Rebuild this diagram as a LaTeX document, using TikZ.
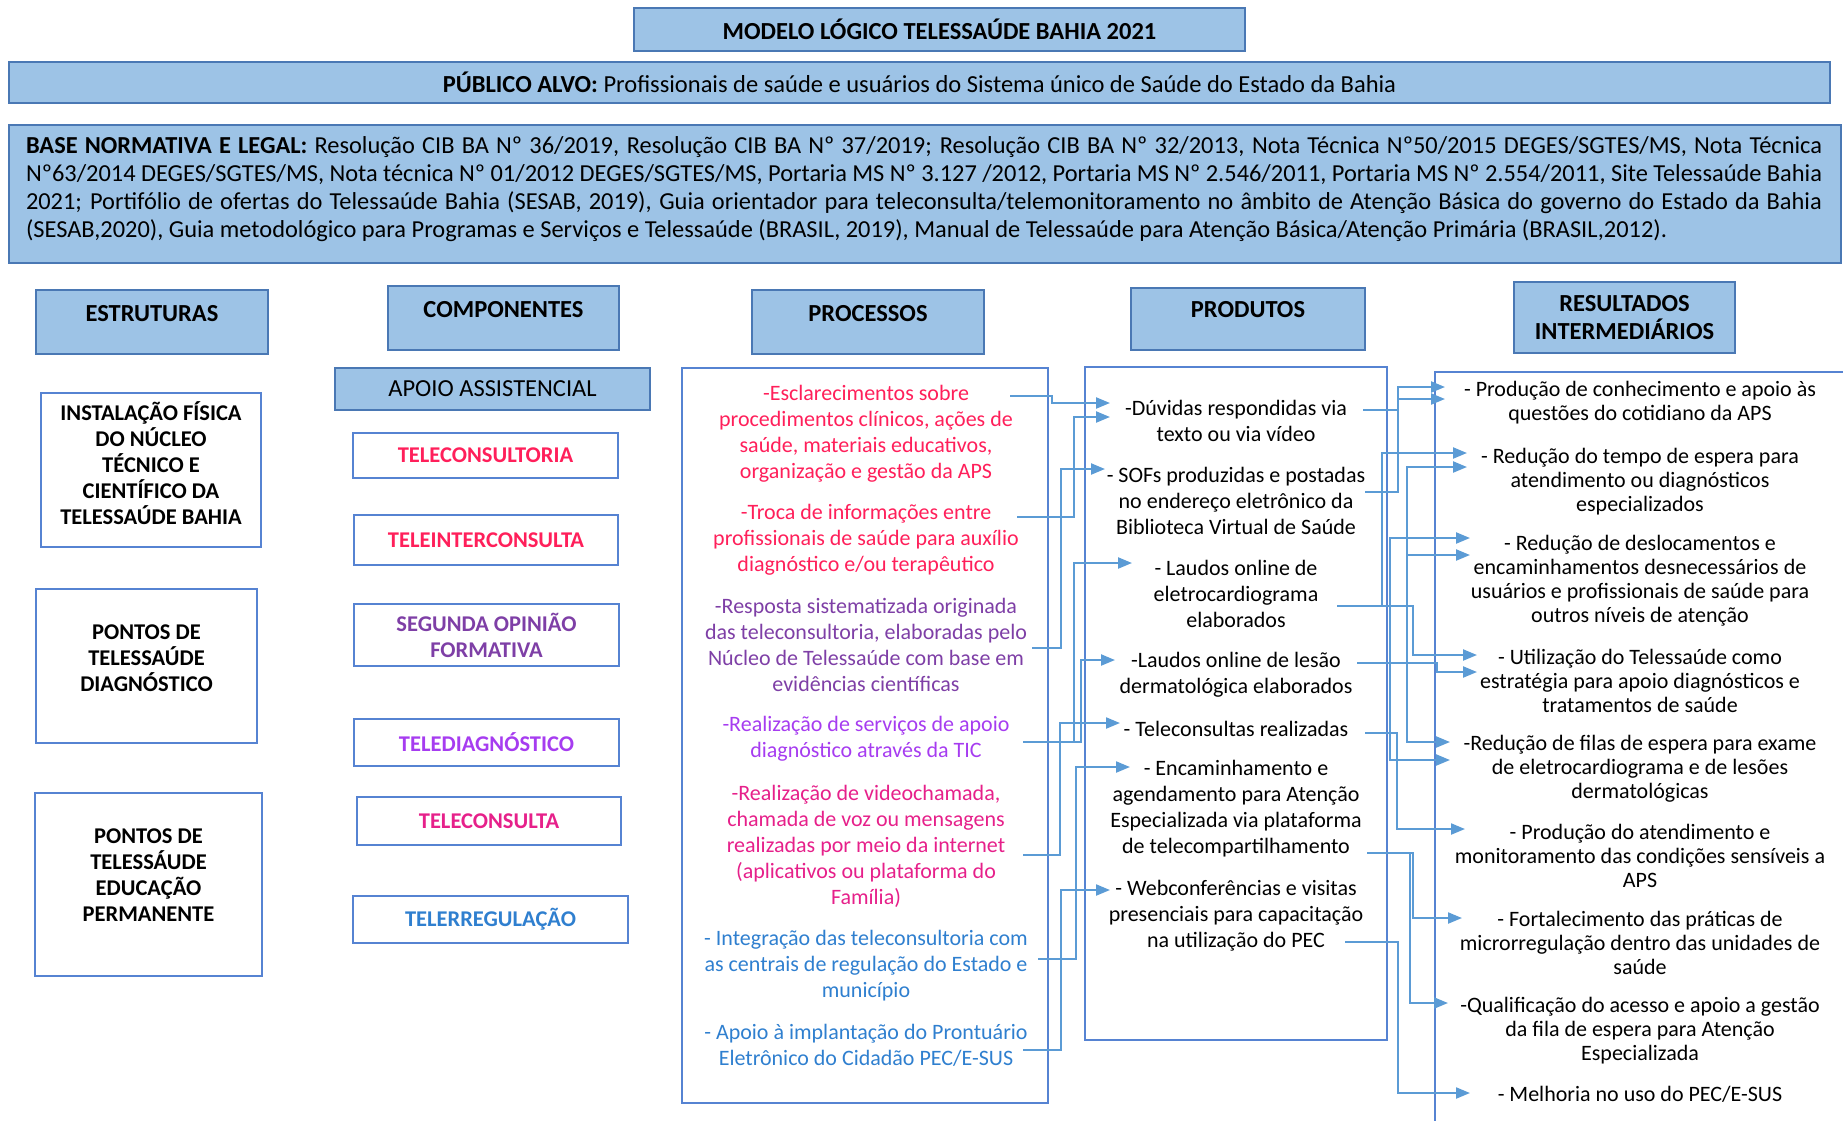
\documentclass[tikz,border=0pt]{standalone}
\usepackage{fontspec}
\setmainfont{Carlito}
\usetikzlibrary{positioning,arrows.meta}
\definecolor{hdrfill}{HTML}{9DC3E6}
\definecolor{hdrline}{HTML}{4A78B4}
\definecolor{boxline}{HTML}{5683D2}
\definecolor{linkblue}{HTML}{5B9BD5}
\definecolor{redpink}{HTML}{FF1F5A}
\definecolor{plum}{HTML}{7E3FA6}
\definecolor{lilac}{HTML}{A63CF0}
\definecolor{magentapink}{HTML}{E6208A}
\definecolor{ocean}{HTML}{2F7FCF}

\begin{document}
\begin{tikzpicture}[x = 1pt, y = -1pt,
    every node/.style = {inner sep = 0pt},
    hdr/.style = {draw = hdrline, fill = hdrfill, line width = 1.8pt},
    wbox/.style = {draw = boxline, line width = 1.8pt},
    hdrtxt/.style = {font = \bfseries\fontsize{24.5}{28}\selectfont, align = center},
    captxt/.style = {font = \bfseries\fontsize{22.5}{26}\selectfont, align = center},
    body/.style = {font = \fontsize{22}{26}\selectfont, align = center},
    res/.style = {font = \fontsize{22}{24}\selectfont, align = center},
    link/.style = {draw = linkblue, line width = 2.2pt, -{Triangle[length = 14pt, width = 11pt]}}]
    \useasboundingbox (0,0) rectangle (1843,1120);

    \node[hdr, hdrtxt, minimum width = 611pt, minimum height = 43pt] (titulo) at (939.5,29.5) {MODELO LÓGICO TELESSAÚDE BAHIA 2021};
    \node[hdr, minimum width = 1821pt, minimum height = 41pt, font = \fontsize{24.5}{28}\selectfont] (publico) at (919.5,82.5)
        {\textbf{PÚBLICO ALVO:} Profissionais de saúde e usuários do Sistema único de Saúde do Estado da Bahia};
    \node[hdr, minimum width = 1832pt, minimum height = 138pt] (base) at (925,194) {};
    \node[font = \fontsize{24.4}{28}\selectfont, text width = 1796pt, align = justify] (basetxt) at (924,189) {%
        \textbf{BASE NORMATIVA E LEGAL:} Resolução CIB BA Nº 36/2019, Resolução CIB BA Nº 37/2019; Resolução CIB BA Nº 32/2013, Nota Técnica Nº50/2015 DEGES/SGTES/MS, Nota Técnica\linebreak
        Nº63/2014 DEGES/SGTES/MS, Nota técnica Nº 01/2012 DEGES/SGTES/MS, Portaria MS Nº 3.127 /2012, Portaria MS Nº 2.546/2011, Portaria MS Nº 2.554/2011, Site Telessaúde Bahia\linebreak
        2021; Portifólio de ofertas do Telessaúde Bahia (SESAB, 2019), Guia orientador para teleconsulta/telemonitoramento no âmbito de Atenção Básica do governo do Estado da Bahia\linebreak
        (SESAB,2020), Guia metodológico para Programas e Serviços e Telessaúde (BRASIL, 2019), Manual de Telessaúde para Atenção Básica/Atenção Primária (BRASIL,2012).};

    \node[hdr, minimum width = 232pt, minimum height = 64pt] (estrhdr) at (152,322) {};
    \node[hdrtxt] (estrtxt) at (152,314) {ESTRUTURAS};
    \node[hdr, minimum width = 231pt, minimum height = 64pt] (comphdr) at (503.5,318) {};
    \node[hdrtxt] (comptxt) at (503.5,310) {COMPONENTES};
    \node[hdr, minimum width = 232pt, minimum height = 64pt] (prochdr) at (868,322) {};
    \node[hdrtxt] (proctxt) at (868,314) {PROCESSOS};
    \node[hdr, minimum width = 234pt, minimum height = 62pt] (prodhdr) at (1248,319) {};
    \node[hdrtxt] (prodtxt) at (1248,310) {PRODUTOS};
    \node[hdr, hdrtxt, minimum width = 221pt, minimum height = 71pt] (reshdr) at (1624.5,317.5) {RESULTADOS\\INTERMEDIÁRIOS};
    \node[hdr, minimum width = 315pt, minimum height = 42pt, font = \fontsize{24.5}{28}\selectfont] (apoio) at (492.5,389) {APOIO ASSISTENCIAL};

    \node[wbox, minimum width = 220pt, minimum height = 154pt] (estr1) at (151,470) {};
    \node[captxt] (estr1txt) at (151,463) {INSTALAÇÃO FÍSICA\\DO NÚCLEO\\TÉCNICO E\\CIENTÍFICO DA\\TELESSAÚDE BAHIA};
    \node[wbox, minimum width = 221pt, minimum height = 154pt] (estr2) at (146.5,666) {};
    \node[captxt] (estr2txt) at (146.5,658) {PONTOS DE\\TELESSAÚDE\\DIAGNÓSTICO};
    \node[wbox, minimum width = 227pt, minimum height = 183pt] (estr3) at (148.5,884.5) {};
    \node[captxt] (estr3txt) at (148.5,875) {PONTOS DE\\TELESSÁUDE\\EDUCAÇÃO\\PERMANENTE};

    \node[wbox, captxt, text = redpink, minimum width = 265pt, minimum height = 45pt] (teleconsultoria) at (485.5,455.5) {TELECONSULTORIA};
    \node[wbox, captxt, text = redpink, minimum width = 264pt, minimum height = 50pt] (teleinter) at (486,540) {TELEINTERCONSULTA};
    \node[wbox, captxt, text = plum, minimum width = 265pt, minimum height = 62pt] (segunda) at (486.5,635) {SEGUNDA OPINIÃO\\FORMATIVA};
    \node[wbox, captxt, text = lilac, minimum width = 265pt, minimum height = 47pt] (telediag) at (486.5,742.5) {TELEDIAGNÓSTICO};
    \node[wbox, captxt, text = magentapink, minimum width = 264pt, minimum height = 48pt] (teleconsulta) at (489,821) {TELECONSULTA};
    \node[wbox, captxt, text = ocean, minimum width = 275pt, minimum height = 47pt] (telerreg) at (490.5,919.5) {TELERREGULAÇÃO};

    \node[wbox, minimum width = 366pt, minimum height = 735pt] (procbox) at (865,735.5) {};
    \node[wbox, minimum width = 302pt, minimum height = 673pt] (prodbox) at (1236,703.5) {};
    \node[wbox, anchor = north west, minimum width = 440pt, minimum height = 780pt] (resbox) at (1434,371) {};

    \node[body, text = redpink] (p1) at (866,434) {-Esclarecimentos sobre\\procedimentos clínicos, ações de\\saúde, materiais educativos,\\organização e gestão da APS};
    \node[body, text = redpink] (p2) at (866,540) {-Troca de informações entre\\profissionais de saúde para auxílio\\diagnóstico e/ou terapêutico};
    \node[body, text = plum] (p3) at (866,645) {-Resposta sistematizada originada\\das teleconsultoria, elaboradas pelo\\Núcleo de Telessaúde com base em\\evidências científicas};
    \node[body, text = lilac] (p4) at (866,739) {-Realização de serviços de apoio\\diagnóstico através da TIC};
    \node[body, text = magentapink] (p5) at (866,846) {-Realização de videochamada,\\chamada de voz ou mensagens\\realizadas por meio da internet\\(aplicativos ou plataforma do\\Família)};
    \node[body, text = ocean] (p6) at (866,966) {- Integração das teleconsultoria com\\as centrais de regulação do Estado e\\município};
    \node[body, text = ocean] (p7) at (866,1045) {- Apoio à implantação do Prontuário\\Eletrônico do Cidadão PEC/E-SUS};

    \node[body] (r1) at (1236,421) {-Dúvidas respondidas via\\texto ou via vídeo};
    \node[body] (r2) at (1236,501) {- SOFs produzidas e postadas\\no endereço eletrônico da\\Biblioteca Virtual de Saúde};
    \node[body] (r3) at (1236,594) {- Laudos online de\\eletrocardiograma\\elaborados};
    \node[body] (r4) at (1236,675) {-Laudos online de lesão\\dermatológica elaborados};
    \node[body] (r5) at (1236,729) {- Teleconsultas realizadas};
    \node[body] (r6) at (1236,809) {- Encaminhamento e\\agendamento para Atenção\\Especializada via plataforma\\de telecompartilhamento};
    \node[body] (r7) at (1236,916) {- Webconferências e visitas\\presenciais para capacitação\\na utilização do PEC};

    \node[res] (o1) at (1640,403) {- Produção de conhecimento e apoio às\\questões do cotidiano da APS};
    \node[res] (o2) at (1640,482) {- Redução do tempo de espera para\\atendimento ou diagnósticos\\especializados};
    \node[res] (o3) at (1640,581) {- Redução de deslocamentos e\\encaminhamentos desnecessários de\\usuários e profissionais de saúde para\\outros níveis de atenção};
    \node[res] (o4) at (1640,681) {- Utilização do Telessaúde como\\estratégia para apoio diagnósticos e\\tratamentos de saúde};
    \node[res] (o5) at (1640,769) {-Redução de filas de espera para exame\\de eletrocardiograma e de lesões\\dermatológicas};
    \node[res] (o6) at (1640,856) {- Produção do atendimento e\\monitoramento das condições sensíveis a\\APS};
    \node[res] (o7) at (1640,943) {- Fortalecimento das práticas de\\microrregulação dentro das unidades de\\saúde};
    \node[res] (o8) at (1640,1031) {-Qualificação do acesso e apoio a gestão\\da fila de espera para Atenção\\Especializada};
    \node[res] (o9) at (1640,1094) {- Melhoria no uso do PEC/E-SUS};

    \coordinate (p1out) at (1010,396);
    \coordinate (p2out) at (1017,517);
    \coordinate (p3out) at (1032,648);
    \coordinate (p4out) at (1023,742);
    \coordinate (p5out) at (1023,855);
    \coordinate (p6out) at (1038,959);
    \coordinate (p7out) at (1023,1050);
    \coordinate (r1in) at (1110,403);
    \coordinate (r1inb) at (1110,417);
    \coordinate (r2in) at (1105,469);
    \coordinate (r3in) at (1132,563);
    \coordinate (r4in) at (1115,660);
    \coordinate (r5in) at (1120,723);
    \coordinate (r6in) at (1130,767);
    \coordinate (r7in) at (1110,890);

    \draw[link] (p1out) -- ++(42,0) |- (r1in);
    \draw[link] (p2out) -- ++(57,0) |- (r1inb);
    \draw[link] (p3out) -- ++(29,0) |- (r2in);
    \draw[link] (p4out) -- ++(51,0) |- (r3in);
    \draw[link] (p4out) -- ++(58,0) |- (r4in);
    \draw[link] (p5out) -- ++(37,0) |- (r5in);
    \draw[link] (p6out) -- ++(38,0) |- (r6in);
    \draw[link] (p7out) -- ++(38,0) |- (r7in);

    \coordinate (r1out) at (1363,410);
    \coordinate (r2out) at (1365,492);
    \coordinate (r3out) at (1337,606);
    \coordinate (r4out) at (1357,663);
    \coordinate (r5out) at (1365,733);
    \coordinate (r6out) at (1367,853);
    \coordinate (r7out) at (1345,942);
    \coordinate (o1in) at (1445,387);
    \coordinate (o1inb) at (1445,399);
    \coordinate (o2in) at (1467,453);
    \coordinate (o2inb) at (1467,467);
    \coordinate (o3in) at (1470,538);
    \coordinate (o3inb) at (1470,555);
    \coordinate (o4in) at (1477,655);
    \coordinate (o4inb) at (1477,672);
    \coordinate (o5in) at (1450,742);
    \coordinate (o5inb) at (1450,760);
    \coordinate (o6in) at (1465,829);
    \coordinate (o7in) at (1462,918);
    \coordinate (o8in) at (1448,1003);
    \coordinate (o9in) at (1470,1093);

    \draw[link] (r1out) -- ++(35,0) |- (o1in);
    \draw[link] (r2out) -- ++(33,0) |- (o1inb);
    \draw[link] (r3out) -- ++(45,0) |- (o2in);
    \draw[link] (r4out) -- ++(50,0) |- (o2inb);
    \draw[link] (r3out) -- ++(53,0) |- (o3in);
    \draw[link] (r4out) -- ++(50,0) |- (o3inb);
    \draw[link] (r3out) -- ++(76,0) |- (o4in);
    \draw[link] (r4out) -- ++(80,0) |- (o4inb);
    \draw[link] (r4out) -- ++(50,0) |- (o5in);
    \draw[link] (r3out) -- ++(53,0) |- (o5inb);
    \draw[link] (r5out) -- ++(32,0) |- (o6in);
    \draw[link] (r6out) -- ++(46,0) |- (o7in);
    \draw[link] (r6out) -- ++(43,0) |- (o8in);
    \draw[link] (r7out) -- ++(53,0) |- (o9in);
\end{tikzpicture}
\end{document}
